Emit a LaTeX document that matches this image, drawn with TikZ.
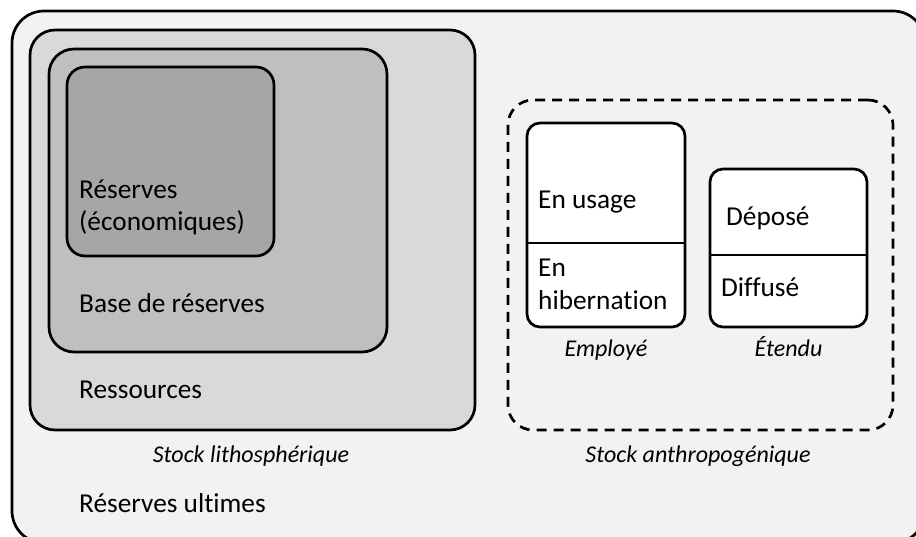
\documentclass[tikz,border=0pt]{standalone}
\usepackage{fontspec}
\setmainfont[Ligatures=NoCommon]{Carlito}
\definecolor{g1}{HTML}{F2F2F2}
\definecolor{g2}{HTML}{D9D9D9}
\definecolor{g3}{HTML}{BFBFBF}
\definecolor{g4}{HTML}{A6A6A6}
\tikzset{
  panel/.style={draw=black, line width=2.7pt, rectangle, inner sep=0pt, outer sep=0pt},
  lbl/.style={inner sep=0pt, anchor=base west, font=\fontsize{27.3}{30}\selectfont},
  caption/.style={inner sep=0pt, anchor=base, font=\fontsize{24}{28}\selectfont\itshape},
  divider/.style={line width=2.7pt}
}
\begin{document}
\begin{tikzpicture}[x=1pt, y=-1pt]
\useasboundingbox (0,0) rectangle (916,537);
\fill[white] (0,0) rectangle (916,537);
\clip (0,0) rectangle (916,537);

% nested lithospheric stocks
\node[panel, fill=g1, rounded corners=32pt, minimum width=913pt, minimum height=532pt] (ultimes) at (468.5,277) {};
\node[panel, fill=g2, rounded corners=25pt, minimum width=445pt, minimum height=400pt] (ressources) at (252.5,230) {};
\node[panel, fill=g3, rounded corners=25pt, minimum width=338pt, minimum height=303pt] (base) at (218,200.5) {};
\node[panel, fill=g4, rounded corners=18pt, minimum width=207pt, minimum height=189pt] (reserves) at (170.5,161.5) {};

\node[lbl] (t-res1) at (79,199) {Réserves};
\node[lbl] (t-res2) at (79,231) {(économiques)};
\node[lbl] (t-base) at (79,313) {Base de réserves};
\node[lbl] (t-ress) at (79,399) {Ressources};
\node[caption] (t-litho) at (251,462) {Stock lithosphérique};
\node[lbl] (t-ult) at (79,512) {Réserves ultimes};

% anthropogenic stock
\node[panel, dashed, dash pattern=on 10pt off 7pt, rounded corners=25pt, minimum width=385pt, minimum height=330pt] (anthro) at (700.5,265) {};
\node[panel, fill=white, rounded corners=13pt, minimum width=158pt, minimum height=204pt] (employe) at (606,225) {};
\node[panel, fill=white, rounded corners=13pt, minimum width=157pt, minimum height=158pt] (etendu) at (788.5,248) {};
\draw[divider] (employe.west |- 0,243) -- (employe.east |- 0,243);
\draw[divider] (etendu.west |- 0,255) -- (etendu.east |- 0,255);

\node[lbl] (t-usage) at (538,209) {En usage};
\node[lbl] (t-en) at (538,277) {En};
\node[lbl] (t-hib) at (538,310) {hibernation};
\node[lbl] (t-dep) at (726,226) {Déposé};
\node[lbl] (t-dif) at (721,297) {Diffusé};
\node[caption] (t-emp) at (employe.south |- 0,357) {Employé};
\node[caption] (t-ete) at (etendu.south |- 0,357) {Étendu};
\node[caption] (t-anthro) at (698,462) {Stock anthropogénique};
\end{tikzpicture}
\end{document}
